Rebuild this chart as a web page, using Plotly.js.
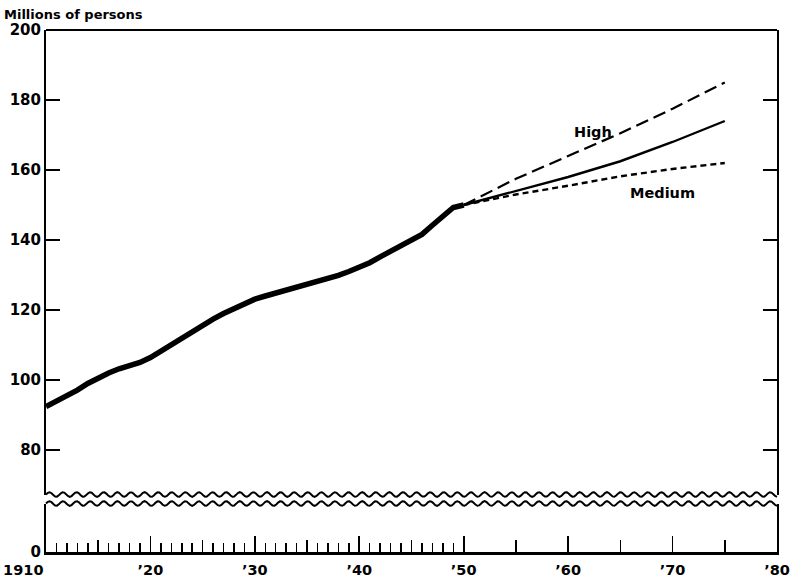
<!DOCTYPE html>
<html>
<head>
<meta charset="utf-8">
<script src="https://cdn.plot.ly/plotly-3.0.1.min.js"></script>
<style>html,body{margin:0;padding:0;background:#fff;}#chart{width:791px;height:579px;}</style>
</head>
<body>
<div id="chart"></div>
<script>
// ---- data ----
const histYears = [1910,1911,1912,1913,1914,1915,1916,1917,1918,1919,1920,1921,1922,1923,1924,1925,1926,1927,1928,1929,1930,1931,1932,1933,1934,1935,1936,1937,1938,1939,1940,1941,1942,1943,1944,1945,1946,1947,1948,1949,1950];
const histValues = [92.4,93.9,95.4,97.1,99.0,100.6,102.0,103.2,104.0,105.0,106.4,108.3,110.2,112.1,114.0,115.8,117.4,119.0,120.5,121.8,123.1,124.0,124.8,125.6,126.4,127.3,128.1,128.9,129.9,131.0,132.2,133.5,135.2,136.9,138.4,139.9,141.6,144.2,146.8,149.3,150.0];
const projYears = [1950,1955,1960,1965,1970,1975];
const projHigh = [150.0,157.5,164.0,170.5,177.5,185.0];
const projMid = [150.0,154.0,158.0,162.5,168.0,174.0];
const projLow = [150.0,153.0,155.5,158.2,160.3,162.0];
const decadeTicks = [1910,1920,1930,1940,1950,1960,1970,1980];
const decadeLabels = ["1910\u00a0\u00a0\u00a0\u00a0\u00a0\u00a0\u00a0\u00a0\u00a0","\u201920","\u201930","\u201940","\u201950","\u201960","\u201970","\u201980"];
const fiveYearTicks = [1915,1925,1935,1945,1955,1965,1975];
const yearTicks = [];
for (let y = 1911; y < 1950; y++) { if (y % 5 !== 0) yearTicks.push(y); }
const yTicks = [80,100,120,140,160,180,200];
const lowerTicks = [0];
const labelHigh = "High";
const labelMedium = "Medium";
const unitLabel = "Millions of persons";

// ---- layout helpers ----
const W = 791, H = 579;
const mL = 46, mR = 14, mT = 30, mB = 27;
const plotH = H - mT - mB, plotW = W - mL - mR;
const bottomPx = H - mB;
function pf(px) { return (bottomPx - px) / plotH; }
const upperBreak = 494.5, lowerBreak = 503.5;
const pxPerUnit = 3.5;
const yMin = 200 - (upperBreak - mT) / pxPerUnit;

function wavePath(yPx) {
  const period = 13.6 / plotW, amp = 2.3 / plotH;
  const base = pf(yPx);
  let d = "M0," + base.toFixed(5);
  const n = 400;
  for (let i = 1; i <= n; i++) {
    const x = i / n;
    const y = base + amp * Math.sin(2 * Math.PI * x / period);
    d += " L" + x.toFixed(5) + "," + y.toFixed(5);
  }
  return d;
}

const font = "DejaVu Sans, sans-serif";
const tf = {family: font, size: 15, color: "#000", weight: "bold"};
const xtf = {family: font, size: 14.5, color: "#000", weight: "bold"};

const traces = [
  {x: [], y: [], mode: "lines", xaxis: "x", yaxis: "y2", hoverinfo: "skip"},
  {x: [], y: [], mode: "lines", xaxis: "x2", yaxis: "y2", hoverinfo: "skip"},
  {x: histYears, y: histValues, mode: "lines", line: {color: "#000", width: 5.5}, xaxis: "x", yaxis: "y", hoverinfo: "skip"},
  {x: projYears, y: projHigh, mode: "lines", line: {color: "#000", width: 2.2, dash: "13px,6px"}, xaxis: "x", yaxis: "y"},
  {x: projYears, y: projMid, mode: "lines", line: {color: "#000", width: 2.4}, xaxis: "x", yaxis: "y"},
  {x: projYears, y: projLow, mode: "lines", line: {color: "#000", width: 2.4, dash: "6px,4px"}, xaxis: "x", yaxis: "y"}
];

const layout = {
  width: W, height: H,
  margin: {l: mL, r: mR, t: mT, b: mB, pad: 0},
  paper_bgcolor: "#fff", plot_bgcolor: "#fff",
  showlegend: false,
  font: {family: font, size: 15, color: "#000"},
  xaxis: {
    anchor: "y2", range: [1910, 1980], showgrid: false, zeroline: false,
    showline: true, linecolor: "#000", linewidth: 2.5,
    tickmode: "array", tickvals: decadeTicks, ticktext: decadeLabels,
    ticks: "inside", ticklen: 16, tickwidth: 1.8, tickcolor: "#000",
    tickfont: xtf, ticklabelstandoff: 3,
    minor: {tickmode: "array", tickvals: yearTicks, ticks: "inside", ticklen: 9, tickwidth: 1.5, tickcolor: "#000", showgrid: false}
  },
  xaxis2: {
    overlaying: "x", anchor: "y2", range: [1910, 1980], showgrid: false, zeroline: false,
    showline: false, tickmode: "array", tickvals: fiveYearTicks, showticklabels: false,
    ticks: "inside", ticklen: 12, tickwidth: 1.6, tickcolor: "#000"
  },
  yaxis: {
    anchor: "x", domain: [pf(upperBreak), 1], range: [yMin, 200], showgrid: false, zeroline: false,
    showline: true, mirror: "ticks", linecolor: "#000", linewidth: 2,
    tickmode: "array", tickvals: yTicks, ticks: "inside", ticklen: 14, tickwidth: 1.8, tickcolor: "#000",
    tickfont: tf
  },
  yaxis2: {
    anchor: "x", domain: [0, pf(lowerBreak)], range: [0, 10], showgrid: false, zeroline: false,
    showline: true, mirror: true, linecolor: "#000", linewidth: 2,
    tickmode: "array", tickvals: lowerTicks, ticks: "",
    tickfont: tf, ticklabelstandoff: 0
  },
  shapes: [
    {type: "line", xref: "paper", yref: "paper", x0: 0, x1: 1, y0: 1, y1: 1, line: {color: "#000", width: 2}},
    {type: "path", xref: "paper", yref: "paper", path: wavePath(upperBreak), line: {color: "#000", width: 2}},
    {type: "path", xref: "paper", yref: "paper", path: wavePath(lowerBreak), line: {color: "#000", width: 2}}
  ],
  annotations: [
    {text: unitLabel, xref: "paper", yref: "paper", x: 0, y: 1, xanchor: "left", yanchor: "bottom", xshift: -44, yshift: 6, showarrow: false, font: {family: font, size: 13, color: "#000", weight: "bold"}},
    {text: labelHigh, x: 1962.4, y: 170.9, xref: "x", yref: "y", showarrow: false, font: {family: font, size: 14.5, color: "#000", weight: "bold"}},
    {text: labelMedium, x: 1969.0, y: 153.4, xref: "x", yref: "y", showarrow: false, font: {family: font, size: 14.5, color: "#000", weight: "bold"}}
  ]
};

Plotly.newPlot("chart", traces, layout, {staticPlot: true, displayModeBar: false});
</script>
</body>
</html>
